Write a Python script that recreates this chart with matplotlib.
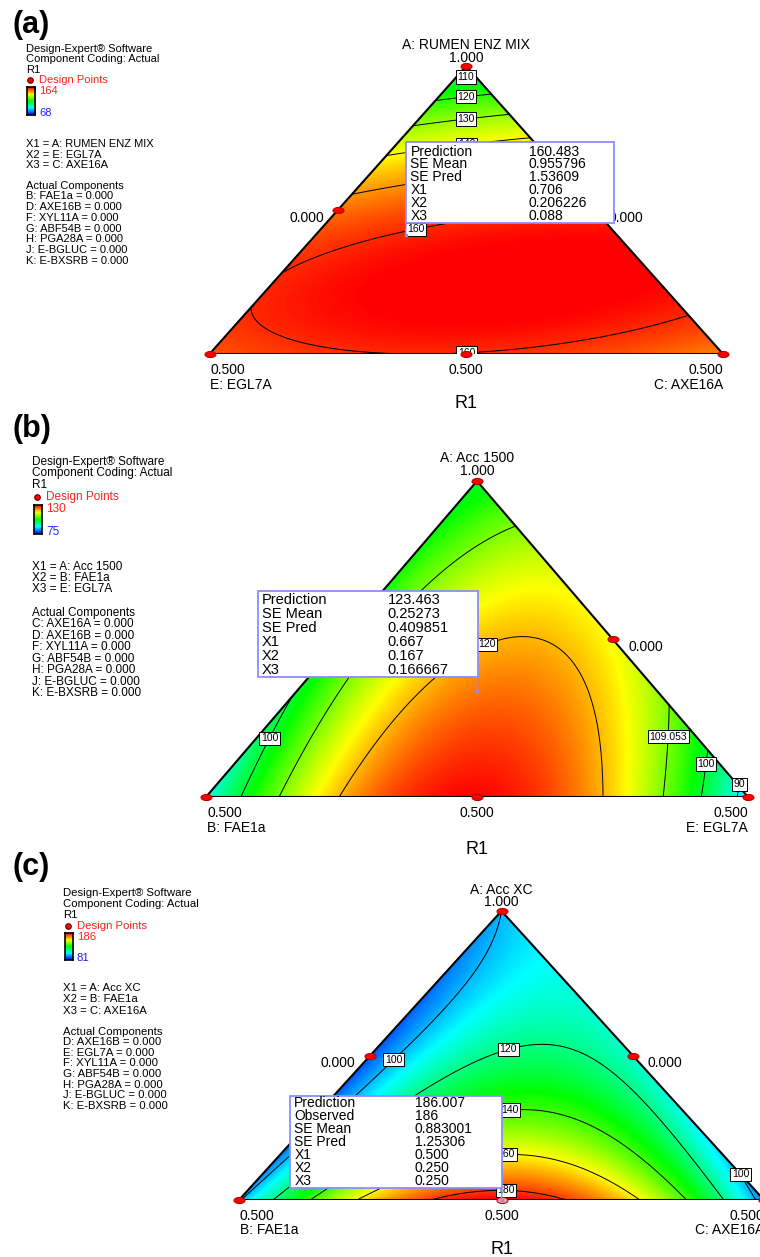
import numpy as np
import matplotlib
matplotlib.use('Agg')
import matplotlib.pyplot as plt
from matplotlib.colors import LinearSegmentedColormap
from matplotlib.patches import Polygon, Rectangle, ConnectionPatch
from matplotlib.lines import Line2D
from matplotlib.path import Path

plt.rcParams['font.family'] = ['Liberation Sans', 'DejaVu Sans']

W, H = 760, 1257

# ---------------- data ----------------
# components: top vertex (X1), left vertex (X2), right vertex (X3)
comp_a = ['A: RUMEN ENZ MIX', 'E: EGL7A', 'C: AXE16A']
comp_b = ['A: Acc 1500', 'B: FAE1a', 'E: EGL7A']
comp_c = ['A: Acc XC', 'B: FAE1a', 'C: AXE16A']

fixed_a = ['B: FAE1a', 'D: AXE16B', 'F: XYL11A', 'G: ABF54B', 'H: PGA28A', 'J: E-BGLUC', 'K: E-BXSRB']
fixed_b = ['C: AXE16A', 'D: AXE16B', 'F: XYL11A', 'G: ABF54B', 'H: PGA28A', 'J: E-BGLUC', 'K: E-BXSRB']
fixed_c = ['D: AXE16B', 'E: EGL7A', 'F: XYL11A', 'G: ABF54B', 'H: PGA28A', 'J: E-BGLUC', 'K: E-BXSRB']
fixed_val = 0.0

# actual component ranges: X1 in [0.5, 1], X2 and X3 in [0, 0.5]
x1_lo, x1_hi = 0.5, 1.0
xo_lo, xo_hi = 0.0, 0.5

range_a = (68, 164)
range_b = (75, 130)
range_c = (81, 186)

# R1 at design points: vertex X1, vertex X2, vertex X3, mid X1-X2, mid X1-X3, mid X2-X3, centroid
resp_a = [104.0, 155.8, 151.3, 153.1, 160.0, 159.8, 164.5]
resp_b = [100.0, 90.3, 86.7, 102.8, 115.75, 129.75, 123.463]
resp_c = [100.0, 98.6, 94.4, 90.05, 112.45, 186.0, 137.15]

levels_a = [110, 120, 130, 140, 150, 160]
levels_b = [90, 100, 109.053, 120]
levels_c = [100, 120, 140, 160, 180]

pred_a = [('Prediction', '160.483'), ('SE Mean', '0.955796'), ('SE Pred', '1.53609'),
          ('X1', '0.706'), ('X2', '0.206226'), ('X3', '0.088')]
pred_b = [('Prediction', '123.463'), ('SE Mean', '0.25273'), ('SE Pred', '0.409851'),
          ('X1', '0.667'), ('X2', '0.167'), ('X3', '0.166667')]
pred_c = [('Prediction', '186.007'), ('Observed', '186'), ('SE Mean', '0.883001'),
          ('SE Pred', '1.25306'), ('X1', '0.500'), ('X2', '0.250'), ('X3', '0.250')]
pred_at_a = (0.706, 0.206226, 0.088)
pred_at_b = (0.667, 0.167, 0.166667)
pred_at_c = (0.500, 0.250, 0.250)

DESIGN = [(1, 0, 0), (0, 1, 0), (0, 0, 1), (.5, .5, 0), (.5, 0, .5), (0, .5, .5),
          (1 / 3, 1 / 3, 1 / 3)]

CMAP = LinearSegmentedColormap.from_list(
    'de', ['#0000ff', '#00ffff', '#00ff00', '#ffff00', '#ff0000'])


def terms(x1, x2, x3):
    return [x1, x2, x3, x1 * x2, x1 * x3, x2 * x3, x1 * x2 * x3]


def fit_model(resp):
    M = np.array([terms(*p) for p in DESIGN])
    return np.linalg.solve(M, np.array(resp))


def model(coef, x1, x2, x3):
    return sum(c * t for c, t in zip(coef, terms(x1, x2, x3)))


def pseudo(actual):
    s = x1_hi - x1_lo
    return ((actual[0] - x1_lo) / s, (actual[1] - xo_lo) / s, (actual[2] - xo_lo) / s)


def to_xy(x1, x2, x3):
    return x3 + 0.5 * x1, x1


t_ = np.linspace(0, 2 * np.pi, 41)
ELL = Path(np.column_stack([np.cos(t_), 0.55 * np.sin(t_)]))

fig = plt.figure(figsize=(W / 100, H / 100), dpi=100)


def fx(x):
    return x / W


def fy(y):
    return 1 - y / H


def ftext(x, y, s, **kw):
    kw.setdefault('va', 'center')
    kw.setdefault('fontsize', 8)
    fig.text(fx(x), fy(y), s, **kw)


def sidebar(tag, comps, fixed, vrange, lay):
    x = lay['x']
    ftext(12, lay['tag_y'], tag, fontsize=22, fontweight='bold', ha='left')
    fs = lay['fs']
    y, dy = lay['head']
    for i, s in enumerate(['Design-Expert\u00ae Software', 'Component Coding: Actual', 'R1']):
        ftext(x, y + i * dy, s, fontsize=fs)
    yd = y + 3 * dy
    fig.add_artist(Line2D([fx(lay['dot_x'])], [fy(yd)], transform=fig.transFigure,
                          marker='o', ms=4, mfc='#ff0000', mec='#600000', mew=0.8, ls='none'))
    ftext(lay['dot_x'] + 9, yd, 'Design Points', fontsize=fs, color='#ff2020')
    cx, cy, cw, ch = lay['cbar']
    cax = fig.add_axes([fx(cx), fy(cy + ch), cw / W, ch / H])
    cax.imshow(np.linspace(0, 1, 64)[:, None], cmap=CMAP, origin='lower', aspect='auto')
    cax.set_xticks([]); cax.set_yticks([])
    for sp in cax.spines.values():
        sp.set_linewidth(1.2)
    ftext(cx + cw + 4, cy + 4, f'{vrange[1]}', fontsize=fs, color='#ff2020')
    ftext(cx + cw + 4, cy + ch - 2, f'{vrange[0]}', fontsize=fs, color='#2020ff')
    y, dy = lay['xs']
    for i, c in enumerate(comps):
        ftext(x, y + i * dy, f'X{i + 1} = {c}', fontsize=fs)
    y, dy = lay['act']
    ftext(x, y, 'Actual Components', fontsize=fs)
    for i, c in enumerate(fixed):
        ftext(x, y + (i + 1) * dy, f'{c} = {fixed_val:.3f}', fontsize=fs)


def panel(comps, vrange, resp, levels, label_at, rows, pred_at, lay):
    l, r, t, b = lay['tri']
    ax = fig.add_axes([fx(l), fy(b), (r - l) / W, (b - t) / H])
    ax.set_xlim(0, 1); ax.set_ylim(0, 1); ax.axis('off')
    coef = fit_model(resp)
    gx, gy = np.meshgrid(np.linspace(0, 1, 500), np.linspace(0, 1, 500))
    x1 = gy
    x3 = gx - 0.5 * gy
    x2 = 1 - x1 - x3
    F = model(coef, x1, x2, x3)
    tri = Polygon([[0, 0], [1, 0], [0.5, 1]], closed=True, transform=ax.transData,
                  fill=False, ec='k', lw=1.5, zorder=4)
    im = ax.imshow(F, extent=(0, 1, 0, 1), origin='lower', cmap=CMAP, vmin=vrange[0],
                   vmax=vrange[1], aspect='auto', interpolation='bilinear')
    im.set_clip_path(tri)
    cs = ax.contour(gx, gy, F, levels=levels, colors='k', linewidths=0.7)
    cs.set_clip_path(tri)
    ax.add_patch(tri)
    labels = cs.clabel(manual=label_at, inline=False, fmt=lambda v: f'{v:g}',
                       fontsize=7.5, colors='k')
    for tx in labels:
        tx.set_rotation(0)
        tx.set_zorder(5)
        tx.set_bbox(dict(boxstyle='square,pad=0.15', fc='white', ec='black', lw=0.7))

    pts = [to_xy(*p) for p in DESIGN[:6]]
    for i, (px, py) in enumerate(pts):
        sel = i == lay.get('selected', -1)
        ax.plot(px, py, ls='none', marker=ELL, ms=8, mfc='#ff9a9a' if sel else '#ff0000',
                mec='#b00000', mew=0.7, clip_on=False, zorder=6)

    # component labels
    fs = 10
    xm = (l + r) / 2
    ftext(xm, lay['title_y'], comps[0], fontsize=fs, ha='center')
    ftext(xm, lay['title_y'] + 12.5, f'{x1_hi:.3f}', fontsize=fs, ha='center')
    yb = b + lay['bot_dy']
    ftext(l + 1, yb, f'{xo_hi:.3f}', fontsize=fs, ha='left')
    ftext(l + 1, yb + 14.5, comps[1], fontsize=fs, ha='left')
    ftext(xm, yb, f'{x1_lo:.3f}', fontsize=fs, ha='center')
    ftext(r, yb, f'{xo_hi:.3f}', fontsize=fs, ha='right')
    ftext(r, yb + 14.5, comps[2], fontsize=fs, ha='right')
    ftext(xm, b + lay['r1_dy'], 'R1', fontsize=13, ha='center')
    ym = (t + b) / 2 + lay['side_dy']
    sx = lay['side_dx']
    ftext((l + xm) / 2 - sx, ym, f'{xo_lo:.3f}', fontsize=fs, ha='right')
    ftext((r + xm) / 2 + sx, ym, f'{xo_lo:.3f}', fontsize=fs, ha='left')

    # prediction box
    bx, by, bw, bh = lay['box']
    fig.add_artist(Rectangle((fx(bx), fy(by + bh)), bw / W, bh / H, transform=fig.transFigure,
                             fc='white', ec='#8c8cff', lw=1.3, zorder=10))
    y0, dy, dl, dv, bfs = lay['rows']
    for i, (k, v) in enumerate(rows):
        ftext(bx + dl, by + y0 + i * dy, k, fontsize=bfs, zorder=11)
        ftext(bx + dv, by + y0 + i * dy, v, fontsize=bfs, zorder=11)
    cxp = bx if lay['corner'] == 'left' else bx + bw
    px, py = to_xy(*pseudo(pred_at))
    fig.add_artist(ConnectionPatch(xyA=(fx(cxp), fy(by + bh)), coordsA='figure fraction',
                                   xyB=(px, py), coordsB=ax.transData, color='#8c8cff',
                                   lw=1.0, zorder=11))
    ax.plot(px, py, marker='s', ms=2, color='#8c8cff', zorder=7, clip_on=False)


lay_a = dict(tri=(209.5, 723, 66, 354), title_y=45, bot_dy=16.5, r1_dy=49.5, side_dy=7.5,
             side_dx=14, box=(406, 142, 208, 81), rows=(9.5, 12.8, 4.5, 122.5, 10),
             corner='left')
lay_b = dict(tri=(206, 748, 481, 797), title_y=458.3, bot_dy=16.3, r1_dy=52.3, side_dy=8.3,
             side_dx=16, box=(257.5, 590.5, 220, 86), rows=(10, 13.9, 4.5, 130, 10.5),
             corner='right')
lay_c = dict(tri=(239, 764, 911, 1200), title_y=890, bot_dy=15.7, r1_dy=49, side_dy=7.2,
             side_dx=14.7, box=(289.7, 1095.7, 212.3, 92.6), rows=(7.5, 12.9, 4.5, 125, 10),
             corner='right', selected=5)

side_a = dict(x=26, tag_y=25.5, fs=8, head=(49, 10.4), dot_x=30, cbar=(26.7, 87, 8.3, 28),
              xs=(144, 10.5), act=(185.7, 10.7))
side_b = dict(x=32.3, tag_y=429, fs=8.5, head=(461.7, 11.7), dot_x=36.7, cbar=(34.3, 505, 8, 29),
              xs=(566.7, 11.3), act=(612.7, 11.5))
side_c = dict(x=63.3, tag_y=867.5, fs=8.2, head=(893.3, 10.9), dot_x=67.7,
              cbar=(65, 933.3, 7.7, 26.7), xs=(988.3, 11.2), act=(1031.7, 10.6))

lab_a = [(0.5, 0.955), (0.5, 0.89), (0.5, 0.815), (0.5, 0.734), (0.40, 0.444), (0.5, 0.02)]
lab_b = [(0.113, 0.19), (0.517, 0.488), (0.842, 0.192), (0.915, 0.106), (0.978, 0.042)]
lab_c = [(0.287, 0.499), (0.512, 0.528), (0.515, 0.329), (0.509, 0.179), (0.509, 0.052),
         (0.958, 0.092)]

sidebar('(a)', comp_a, fixed_a, range_a, side_a)
sidebar('(b)', comp_b, fixed_b, range_b, side_b)
sidebar('(c)', comp_c, fixed_c, range_c, side_c)
panel(comp_a, range_a, resp_a, levels_a, lab_a, pred_a, pred_at_a, lay_a)
panel(comp_b, range_b, resp_b, levels_b, lab_b, pred_b, pred_at_b, lay_b)
panel(comp_c, range_c, resp_c, levels_c, lab_c, pred_c, pred_at_c, lay_c)

fig.savefig('out.png', dpi=100, facecolor='white')
